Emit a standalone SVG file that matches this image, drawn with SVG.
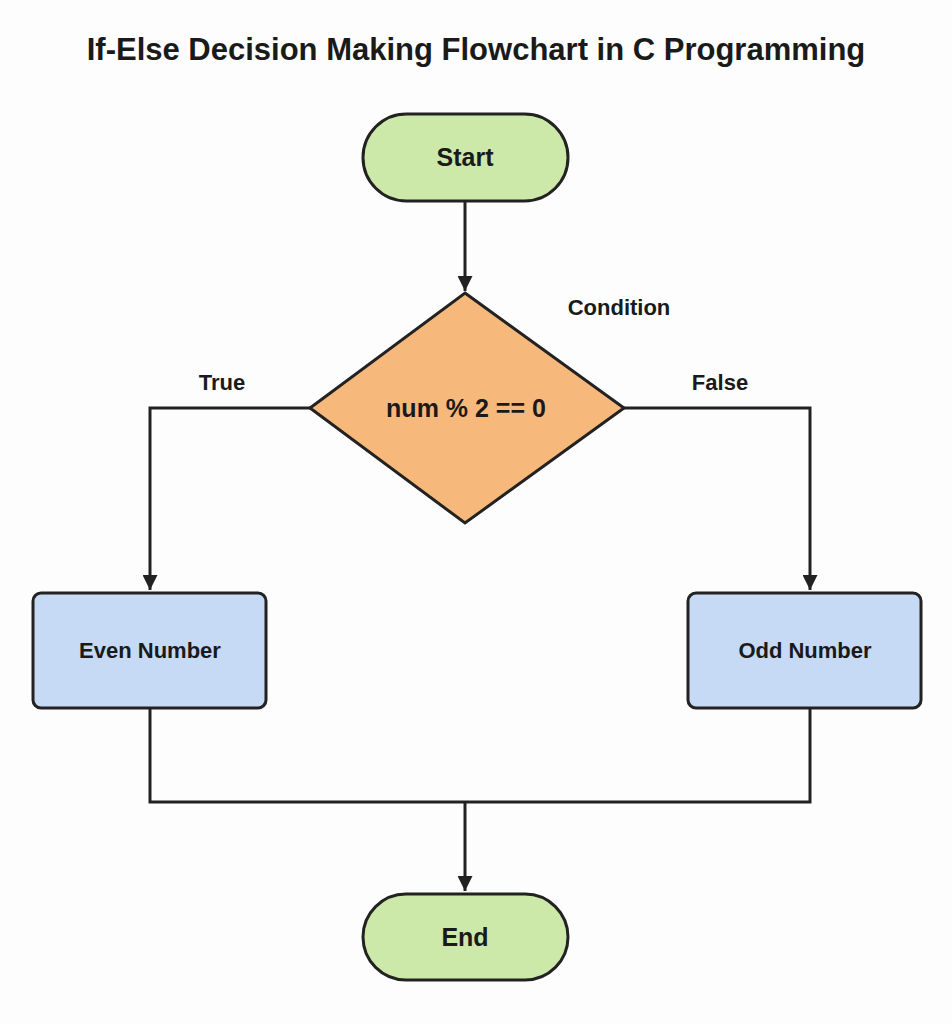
<svg xmlns="http://www.w3.org/2000/svg" width="952" height="1024" viewBox="0 0 952 1024">
<style>
text{font-family:"Liberation Sans",Arial,sans-serif;font-weight:bold;fill:#1a1a1a;text-anchor:middle}
.t{font-size:25px}
.l{font-size:22px}
.pill{fill:#cde9aa;stroke:#222;stroke-width:3}
.box{fill:#c6d9f5;stroke:#222;stroke-width:3}
.line{fill:none;stroke:#222;stroke-width:3}
</style>
<defs><marker id="a" viewBox="0 0 10 10" refX="10" refY="5" markerWidth="5" markerHeight="5" orient="auto" markerUnits="strokeWidth"><path d="M0,0L10,5L0,10z" fill="#222"/></marker></defs>
<rect width="952" height="1024" fill="#fdfdfd"/>
<text x="476" y="60" style="font-size:31px">If-Else Decision Making Flowchart in C Programming</text>
<g id="connectors">
<path class="line" d="M465,201V291" marker-end="url(#a)"/>
<path class="line" d="M310,408H150V590" marker-end="url(#a)"/>
<path class="line" d="M624,408H810V590" marker-end="url(#a)"/>
<path class="line" d="M150,708V802H810V708"/>
<path class="line" d="M465,802V891" marker-end="url(#a)"/>
<text class="l" x="222" y="390">True</text>
<text class="l" x="720" y="390">False</text>
</g>
<g id="start"><rect class="pill" x="363" y="114" width="205" height="87" rx="43.5"/><text class="t" x="465" y="166">Start</text></g>
<g id="condition"><polygon points="465,293 624,408 465,523 310,408" fill="#f6b97b" stroke="#222" stroke-width="3"/><text class="t" x="466" y="417">num % 2 == 0</text><text class="l" x="619" y="315">Condition</text></g>
<g id="even"><rect class="box" x="33" y="593" width="233" height="115" rx="8"/><text class="l" x="150" y="658">Even Number</text></g>
<g id="odd"><rect class="box" x="688" y="593" width="233" height="115" rx="8"/><text class="l" x="805" y="658">Odd Number</text></g>
<g id="end"><rect class="pill" x="363" y="894" width="205" height="86" rx="43"/><text class="t" x="465" y="946">End</text></g>
</svg>
